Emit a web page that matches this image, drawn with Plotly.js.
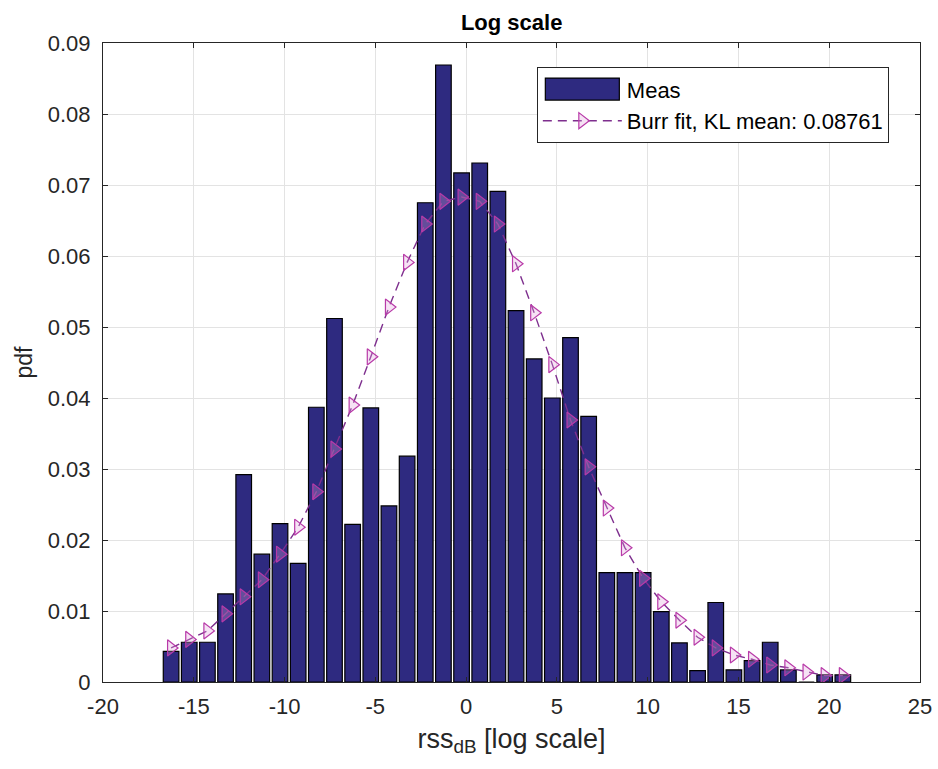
<!DOCTYPE html>
<html>
<head>
<meta charset="utf-8">
<script src="https://cdn.plot.ly/plotly-3.0.1.min.js"></script>
<style>
  html, body { margin: 0; padding: 0; background: #ffffff; }
  #chart { width: 938px; height: 769px; }
</style>
</head>
<body>
<div id="chart"></div>
<script>
// Bin centers (rss_dB)
const binCenters = [-16.25, -15.25, -14.25, -13.25, -12.25, -11.25, -10.25, -9.25, -8.25, -7.25,
  -6.25, -5.25, -4.25, -3.25, -2.25, -1.25, -0.25, 0.75, 1.75, 2.75,
  3.75, 4.75, 5.75, 6.75, 7.75, 8.75, 9.75, 10.75, 11.75, 12.75,
  13.75, 14.75, 15.75, 16.75, 17.75, 18.75, 19.75, 20.75];

// Measured pdf (histogram)
const measPdf = [0.0043, 0.0056, 0.0056, 0.0124, 0.0292, 0.0180, 0.0223, 0.0167, 0.0387, 0.0512,
  0.0222, 0.0386, 0.0248, 0.0318, 0.0675, 0.0869, 0.0717, 0.0731, 0.0691, 0.0523,
  0.0455, 0.0400, 0.0485, 0.0374, 0.0154, 0.0154, 0.0154, 0.0099, 0.0055, 0.0016,
  0.0112, 0.0017, 0.0030, 0.0056, 0.0017, 0.0000, 0.0010, 0.0010];

// Burr fit pdf evaluated at bin centers
const burrPdf = [0.0048, 0.0060, 0.0072, 0.0096, 0.0120, 0.0144, 0.0180, 0.0218, 0.0268, 0.0328,
  0.0390, 0.0458, 0.0528, 0.0591, 0.0645, 0.0677, 0.0683, 0.0677, 0.0645, 0.0589,
  0.0520, 0.0447, 0.0369, 0.0303, 0.0245, 0.0189, 0.0146, 0.0113, 0.0087, 0.0063,
  0.0048, 0.0038, 0.0032, 0.0024, 0.0020, 0.0014, 0.0009, 0.0009];

const xTicks = [-20, -15, -10, -5, 0, 5, 10, 15, 20, 25];
const yTicks = [0, 0.01, 0.02, 0.03, 0.04, 0.05, 0.06, 0.07, 0.08, 0.09];
const yTickText = ['0', '0.01', '0.02', '0.03', '0.04', '0.05', '0.06', '0.07', '0.08', '0.09'];

const FONT = 'Liberation Sans, Arial, Helvetica, sans-serif';
const TXT = '#262626';

const traces = [
  {
    type: 'bar',
    name: 'Meas',
    x: binCenters,
    y: measPdf,
    width: 0.86,
    marker: { color: '#2e2a80', line: { color: '#000000', width: 1.2 } },
    hoverinfo: 'x+y'
  },
  {
    type: 'scatter',
    mode: 'lines+markers',
    name: 'Burr fit, KL mean: 0.08761',
    x: binCenters,
    y: burrPdf,
    line: { color: '#7e2f8e', width: 1.4, dash: '9px,6px' },
    marker: { symbol: 'triangle-right', size: 14, color: 'rgba(225,160,220,0.3)',
              line: { color: '#b83aa8', width: 1.2 } }
  }
];

const axisCommon = {
  showline: true, linecolor: TXT, linewidth: 1, mirror: 'ticks',
  ticks: 'inside', ticklen: 5, tickcolor: TXT, tickwidth: 1,
  showgrid: true, gridcolor: '#e3e3e3', gridwidth: 1,
  zeroline: false,
  tickfont: { family: FONT, size: 22, color: TXT }
};

const layout = {
  width: 938, height: 769,
  paper_bgcolor: '#ffffff', plot_bgcolor: '#ffffff',
  margin: { l: 103, r: 18, t: 43, b: 87 },
  font: { family: FONT, color: TXT },
  title: { text: '<b>Log scale</b>', x: 0.5455, xanchor: 'center', y: 0.971, yanchor: 'middle',
           font: { family: FONT, size: 22, color: '#000000' } },
  xaxis: Object.assign({}, axisCommon, {
    range: [-20, 25], tickvals: xTicks, ticktext: xTicks.map(String),
    ticklabelstandoff: 5,
    title: { text: 'rss<sub>dB</sub> [log scale]', font: { family: FONT, size: 27, color: TXT }, standoff: 10 }
  }),
  yaxis: Object.assign({}, axisCommon, {
    range: [0, 0.09], tickvals: yTicks, ticktext: yTickText,
    ticklabelstandoff: 7,
    title: { text: 'pdf', font: { family: FONT, size: 23, color: TXT }, standoff: 8 }
  }),
  bargap: 0,
  showlegend: true,
  legend: {
    x: 0.531, y: 0.962, xanchor: 'left', yanchor: 'top',
    bgcolor: '#ffffff', bordercolor: TXT, borderwidth: 1,
    font: { family: FONT, size: 22, color: '#000000' },
    itemwidth: 79, tracegroupgap: 0
  }
};

Plotly.newPlot('chart', traces, layout, { displayModeBar: false, staticPlot: true }).then(function (gd) {
  // widen the bar swatch in the legend to the long MATLAB-style patch
  const items = gd.querySelectorAll('.legend .traces');
  if (items.length) {
    const p = items[0].querySelector('.legendpoints path');
    if (p) p.setAttribute('d', 'M37,11H-37V-11H37Z');
  }
});
</script>
</body>
</html>
